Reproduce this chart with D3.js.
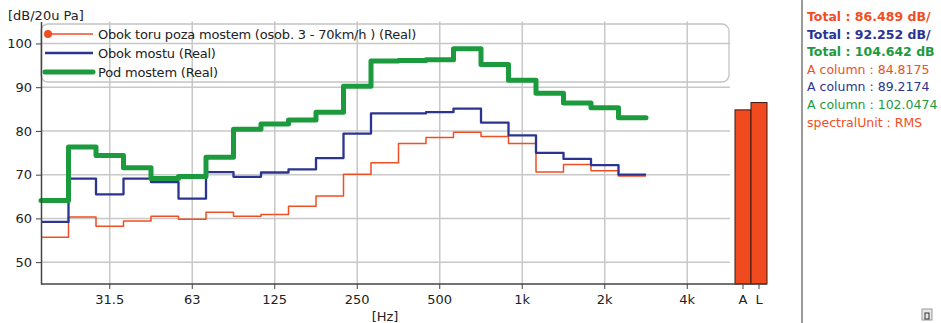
<!DOCTYPE html>
<html><head><meta charset="utf-8">
<script src="https://cdn.jsdelivr.net/npm/d3@7"></script>
<style>
body{margin:0;background:#fff;}
svg{display:block;font-family:"DejaVu Sans",sans-serif;}
</style></head>
<body><svg id="c" width="941" height="323"></svg>
<script>
// ---- data ----
const bands = ["20","25","31.5","40","50","63","80","100","125","160","200","250","315","400","500","630","800","1k","1.25k","1.6k","2k","2.5k","3.15k","4k","5k"];
const tickLabels = ["31.5","63","125","250","500","1k","2k","4k"];
const seriesNames = ["Obok toru poza mostem (osob. 3 - 70km/h ) (Real)","Obok mostu (Real)","Pod mostem (Real)"];
const redValues   = [55.7,60.3,58.2,59.4,60.5,59.8,61.4,60.5,60.9,62.8,65.1,70.1,72.7,77.1,78.5,79.7,78.7,77.1,70.6,72.3,70.9,69.7];
const blueValues  = [59.2,69.1,65.5,69.1,68.3,64.5,70.6,69.5,70.5,71.2,73.8,79.4,84.0,84.0,84.3,85.1,81.9,79.0,75.0,73.6,72.2,70.0];
const greenValues = [64.1,76.3,74.4,71.6,69.1,69.6,74.0,80.4,81.6,82.5,84.3,90.2,96.0,96.1,96.3,98.8,95.2,91.6,88.6,86.4,85.3,83.0];
const sumCategories = ["A","L"];
const sumValues = [84.8175, 86.489];
const yTicks = [50,60,70,80,90,100];
const infoLines = [
  {text:"Total : 86.489 dB/", s:0, bold:true},
  {text:"Total : 92.252 dB/", s:1, bold:true},
  {text:"Total : 104.642 dB", s:2, bold:true},
  {text:"A column : 84.8175", s:0, bold:false},
  {text:"A column : 89.2174", s:1, bold:false},
  {text:"A column : 102.0474", s:2, bold:false},
  {text:"spectralUnit : RMS", s:0, bold:false}
];
// ---- styles ----
const colors = ["#f04e23","#2b3491","#1c9a3e"];
const widths = [1.5,2.3,5];
const svg = d3.select("#c");
const pL = 41, pR = 728.5, pT = 21.6, pB = 284;
const x = d3.scaleBand().domain(bands).range([pL, pR]).padding(0);
const xs = d3.scaleBand().domain(sumCategories).range([735, 767]).padding(0);
const y = d3.scaleLinear().domain([45,105]).range([pB, pT]);
const grid = svg.append("g");
grid.selectAll("line.h").data(yTicks).join("line")
  .attr("x1", pL).attr("x2", 730).attr("y1", d=>y(d)).attr("y2", d=>y(d))
  .attr("stroke","#c8c8c8").attr("stroke-width",1.5);
grid.selectAll("line.v").data(tickLabels).join("line")
  .attr("x1", d=>x(d)+x.bandwidth()/2).attr("x2", d=>x(d)+x.bandwidth()/2)
  .attr("y1", pT).attr("y2", pB)
  .attr("stroke","#c8c8c8").attr("stroke-width",1.5);
svg.append("rect").attr("x",pL).attr("y",24).attr("width",729-pL).attr("height",58)
  .attr("rx",7).attr("fill","none").attr("stroke","#c4c4c4").attr("stroke-width",1.3);
svg.selectAll("rect.bar").data(sumValues).join("rect")
  .attr("x",(d,i)=>xs(sumCategories[i])).attr("width",xs.bandwidth())
  .attr("y",d=>y(d)).attr("height",d=>pB-y(d))
  .attr("fill","#f04a1f").attr("stroke","#3a1a12").attr("stroke-width",1);
const lineGen = d3.line().x(d=>d[0]).y(d=>y(d[1])).curve(d3.curveStepAfter);
[redValues, blueValues, greenValues].forEach((vals,si)=>{
  const pts = vals.map((v,i)=>[x(bands[i]), v]);
  pts.push([x(bands[vals.length-1])+x.bandwidth(), vals[vals.length-1]]);
  svg.append("path").attr("d", lineGen(pts)).attr("fill","none")
    .attr("stroke",colors[si]).attr("stroke-width",widths[si])
    .attr("stroke-linejoin","round").attr("stroke-linecap", si===2?"round":"butt");
});
const yAxis = svg.append("g").attr("transform",`translate(${pL},0)`)
  .call(d3.axisLeft(y).tickValues(yTicks).tickSize(5).tickSizeOuter(0));
yAxis.select(".domain").attr("stroke","#444").attr("stroke-width",1.5);
yAxis.selectAll(".tick line").attr("stroke","#444");
yAxis.selectAll(".tick text").attr("font-size",13).attr("fill","#222").attr("font-family","DejaVu Sans").attr("dx",-1);
const xAxisG = svg.append("g");
xAxisG.append("line").attr("x1",pL).attr("x2",767).attr("y1",pB).attr("y2",pB)
  .attr("stroke","#444").attr("stroke-width",1.5);
const xt = tickLabels.map(t=>({t, px:x(t)+x.bandwidth()/2})).concat(sumCategories.map(t=>({t, px:xs(t)+xs.bandwidth()/2})));
xAxisG.selectAll("line.t").data(xt).join("line")
  .attr("x1",d=>d.px).attr("x2",d=>d.px).attr("y1",pB).attr("y2",pB+5).attr("stroke","#444");
xAxisG.selectAll("text").data(xt).join("text")
  .attr("x",d=>d.px).attr("y",pB+20).attr("text-anchor","middle")
  .attr("font-size",13).attr("fill","#222").text(d=>d.t);
svg.append("text").attr("x",385).attr("y",321).attr("text-anchor","middle").attr("font-size",13).attr("fill","#222").text("[Hz]");
svg.append("text").attr("x",8).attr("y",20).attr("font-size",13).attr("fill","#222").text("[dB/20u Pa]");
const lg = svg.append("g");
seriesNames.forEach((n,i)=>{
  const ly = 34 + i*19;
  lg.append("line").attr("x1",45).attr("x2",93).attr("y1",ly).attr("y2",ly)
    .attr("stroke",colors[i]).attr("stroke-width",widths[i]).attr("stroke-linecap",i===2?"round":"butt");
  if(i===0) lg.append("circle").attr("cx",48).attr("cy",ly).attr("r",4).attr("fill",colors[0]);
  lg.append("text").attr("x",98).attr("y",ly+5).attr("font-size",13).attr("letter-spacing",-0.2).attr("fill","#222").text(n);
});
svg.append("line").attr("x1",802).attr("x2",802).attr("y1",0).attr("y2",323).attr("stroke","#9a9a9a").attr("stroke-width",2);
svg.selectAll("text.info").data(infoLines).join("text")
  .attr("x",807).attr("y",(d,i)=>21+i*17.6)
  .attr("font-size",12.5).attr("font-weight",d=>d.bold?"bold":"normal")
  .attr("fill",d=>colors[d.s]).text(d=>d.text);
svg.append("rect").attr("x",922).attr("y",309).attr("width",10).attr("height",11).attr("fill","#e6e6e6").attr("stroke","#999");
svg.append("rect").attr("x",925).attr("y",313).attr("width",4).attr("height",6).attr("fill","none").attr("stroke","#333");
</script></body></html>
